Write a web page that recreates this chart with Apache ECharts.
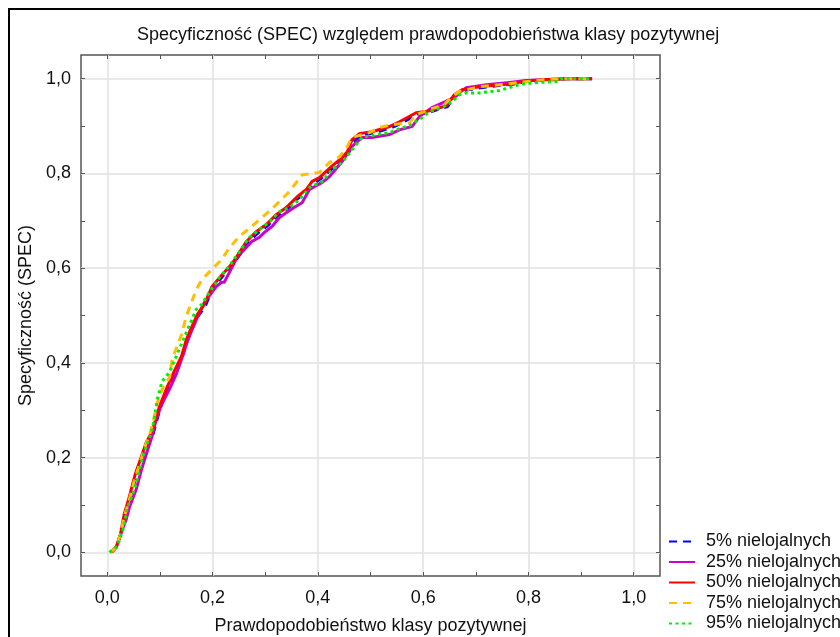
<!DOCTYPE html>
<html><head><meta charset="utf-8">
<script src="https://cdn.jsdelivr.net/npm/echarts@6/dist/echarts.min.js"></script>
<style>html,body{margin:0;padding:0;background:#fff}#c{width:840px;height:637px}</style>
</head><body><div id="c"></div>
<script>
const titleText = 'Specyficzność (SPEC) względem prawdopodobieństwa klasy pozytywnej';
const xName = 'Prawdopodobieństwo klasy pozytywnej';
const yName = 'Specyficzność (SPEC)';
const seriesNames = ['5% nielojalnych','25% nielojalnych','50% nielojalnych','75% nielojalnych','95% nielojalnych'];
const majorTicks = [0,0.2,0.4,0.6,0.8,1.0];
const minorTicks = [0,0.1,0.2,0.3,0.4,0.5,0.6,0.7,0.8,0.9,1.0];

const x5 = [0.008,0.017,0.025,0.033,0.043,0.055,0.066,0.076,0.087,0.100,0.115,0.128,0.142,0.151,0.161,0.172,0.186,0.200,0.219,0.237,0.252,0.266,0.285,0.304,0.323,0.342,0.363,0.380,0.392,0.405,0.427,0.447,0.458,0.467,0.481,0.505,0.538,0.557,0.589,0.614,0.646,0.661,0.676,0.709,0.747,0.771,0.790,0.832,0.874,0.921];
const y5 = [0.000,0.011,0.036,0.078,0.115,0.160,0.200,0.228,0.250,0.303,0.346,0.378,0.411,0.444,0.472,0.498,0.520,0.557,0.583,0.605,0.629,0.652,0.673,0.689,0.710,0.725,0.748,0.762,0.779,0.788,0.810,0.829,0.842,0.866,0.880,0.885,0.896,0.905,0.925,0.930,0.941,0.963,0.975,0.981,0.986,0.988,0.993,0.997,1.000,1.000];

const x25 = [0.006,0.017,0.027,0.036,0.042,0.055,0.065,0.074,0.085,0.093,0.103,0.118,0.131,0.142,0.152,0.161,0.171,0.184,0.207,0.217,0.222,0.232,0.247,0.260,0.274,0.289,0.298,0.313,0.327,0.340,0.355,0.370,0.384,0.408,0.422,0.446,0.465,0.484,0.503,0.536,0.555,0.579,0.593,0.617,0.659,0.669,0.682,0.720,0.764,0.796,0.826,0.872,0.919];
const y25 = [0.000,0.011,0.044,0.070,0.095,0.133,0.175,0.207,0.245,0.281,0.312,0.344,0.376,0.411,0.445,0.470,0.496,0.527,0.561,0.570,0.570,0.591,0.624,0.639,0.656,0.665,0.675,0.688,0.707,0.717,0.728,0.738,0.766,0.781,0.793,0.825,0.857,0.876,0.876,0.882,0.892,0.899,0.920,0.939,0.960,0.970,0.981,0.987,0.992,0.996,0.998,1.000,1.000];

const x50 = [0.008,0.017,0.025,0.032,0.042,0.053,0.065,0.074,0.085,0.099,0.114,0.127,0.141,0.150,0.160,0.171,0.184,0.199,0.218,0.236,0.251,0.264,0.283,0.302,0.321,0.340,0.361,0.378,0.389,0.403,0.425,0.446,0.456,0.465,0.479,0.503,0.536,0.555,0.587,0.612,0.644,0.659,0.674,0.707,0.745,0.769,0.788,0.830,0.872,0.921];
const y50 = [0.000,0.011,0.038,0.080,0.118,0.165,0.203,0.232,0.255,0.308,0.350,0.382,0.414,0.449,0.475,0.502,0.523,0.561,0.586,0.608,0.633,0.656,0.677,0.692,0.713,0.728,0.751,0.766,0.783,0.791,0.814,0.833,0.846,0.871,0.884,0.888,0.899,0.909,0.928,0.932,0.943,0.966,0.977,0.983,0.987,0.989,0.994,0.998,1.000,1.000];

const x75 = [0.006,0.017,0.025,0.032,0.042,0.051,0.063,0.072,0.082,0.089,0.095,0.104,0.118,0.123,0.141,0.150,0.169,0.180,0.198,0.217,0.232,0.251,0.274,0.294,0.321,0.340,0.346,0.370,0.403,0.422,0.441,0.456,0.465,0.498,0.517,0.541,0.574,0.587,0.612,0.640,0.655,0.669,0.707,0.745,0.783,0.830,0.872,0.921];
const y75 = [0.000,0.011,0.038,0.074,0.112,0.150,0.192,0.224,0.255,0.285,0.316,0.344,0.369,0.407,0.460,0.498,0.555,0.576,0.597,0.618,0.643,0.667,0.688,0.707,0.734,0.755,0.762,0.797,0.802,0.823,0.835,0.857,0.876,0.886,0.897,0.903,0.907,0.924,0.935,0.945,0.962,0.973,0.983,0.987,0.992,0.998,1.000,1.000];

const x95 = [0.004,0.019,0.032,0.038,0.047,0.057,0.066,0.074,0.084,0.089,0.095,0.104,0.118,0.131,0.150,0.169,0.179,0.194,0.213,0.232,0.251,0.270,0.289,0.308,0.327,0.346,0.365,0.384,0.408,0.427,0.446,0.473,0.484,0.511,0.536,0.549,0.574,0.593,0.612,0.636,0.655,0.669,0.682,0.707,0.745,0.769,0.788,0.821,0.853,0.864,0.919];
const y95 = [0.000,0.013,0.055,0.095,0.118,0.154,0.196,0.224,0.253,0.281,0.323,0.361,0.380,0.414,0.464,0.513,0.523,0.549,0.580,0.605,0.635,0.665,0.681,0.698,0.719,0.728,0.745,0.770,0.783,0.808,0.823,0.861,0.876,0.882,0.886,0.892,0.901,0.914,0.930,0.939,0.951,0.966,0.970,0.970,0.975,0.983,0.989,0.992,0.994,1.000,1.000];

const zip = (xs, ys) => xs.map((v, i) => [v, ys[i]]);
const FONT = '"Liberation Sans", Arial, sans-serif';
const FS = 18;
const fmt = v => (Math.round(v * 10) / 10).toFixed(1).replace('.', ',');
const AX = '#555';

const styles = [
  { color: '#0000FF', width: 3, type: [8, 6] },
  { color: '#CC00CC', width: 3, type: 'solid' },
  { color: '#FF0000', width: 3, type: 'solid' },
  { color: '#FFBF00', width: 3, type: [8, 6] },
  { color: '#00EE00', width: 3, type: [3, 3.5] }
];
const datas = [zip(x5, y5), zip(x25, y25), zip(x50, y50), zip(x75, y75), zip(x95, y95)];

const tickAxis = (pos) => ({
  type: 'value', min: -0.05, max: 1.05, position: pos,
  axisLine: { show: false, onZero: false },
  axisTick: { show: true, inside: true, length: 4, customValues: minorTicks, lineStyle: { color: AX, width: 1 } },
  axisLabel: { show: false }, splitLine: { show: false }
});

const chart = echarts.init(document.getElementById('c'), null, { renderer: 'canvas' });
chart.setOption({
  animation: false,
  backgroundColor: '#fff',
  graphic: [{ type: 'rect', shape: { x: 9, y: 9, width: 1000, height: 1000 }, style: { fill: 'none', stroke: '#000', lineWidth: 2 }, z: 100 }],
  title: {
    text: titleText, left: 137, top: 26, padding: 0,
    textStyle: { fontFamily: FONT, fontSize: FS, fontWeight: 'normal', color: '#111' }
  },
  legend: {
    orient: 'vertical', left: 668, top: 532.5, padding: 0,
    itemWidth: 26, itemHeight: 14, itemGap: 2.5,
    itemStyle: { color: 'rgba(0,0,0,0)', borderWidth: 0, opacity: 0 },
    textStyle: { fontFamily: FONT, fontSize: FS, lineHeight: 18, color: '#111', padding: [0, 0, 0, 6] },
    data: seriesNames
  },
  grid: { left: 81, top: 55, width: 579, height: 521, show: true, borderColor: AX, borderWidth: 1.5, containLabel: false, outerBoundsMode: 'none' },
  xAxis: [
    {
      type: 'value', min: -0.05, max: 1.05, position: 'bottom',
      name: xName, nameLocation: 'middle', nameGap: 41,
      nameTextStyle: { fontFamily: FONT, fontSize: FS, color: '#111' },
      axisLine: { show: false, onZero: false },
      axisTick: { show: false, customValues: majorTicks },
      axisLabel: { customValues: majorTicks, formatter: fmt, fontFamily: FONT, fontSize: FS, color: '#111', margin: 13 },
      splitLine: { show: true, lineStyle: { color: '#E2E2E2', width: 1.5 } }
    },
    tickAxis('bottom'), tickAxis('top')
  ],
  yAxis: [
    {
      type: 'value', min: -0.05, max: 1.05, position: 'left',
      name: yName, nameLocation: 'middle', nameGap: 36, nameRotate: 90,
      nameTextStyle: { fontFamily: FONT, fontSize: FS, color: '#111' },
      axisLine: { show: false, onZero: false },
      axisTick: { show: false, customValues: majorTicks },
      axisLabel: { customValues: majorTicks, formatter: fmt, fontFamily: FONT, fontSize: FS, color: '#111', margin: 10 },
      splitLine: { show: true, lineStyle: { color: '#E2E2E2', width: 1.5 } }
    },
    tickAxis('left'), tickAxis('right')
  ],
  series: seriesNames.map((n, i) => ({
    name: n, type: 'line', xAxisIndex: 0, yAxisIndex: 0,
    data: datas[i], showSymbol: false, symbol: 'none', smooth: false,
    lineStyle: { color: styles[i].color, width: styles[i].width, type: styles[i].type, cap: 'butt', join: 'miter' },
    itemStyle: { color: styles[i].color },
    z: 2 + i
  }))
});
</script></body></html>
